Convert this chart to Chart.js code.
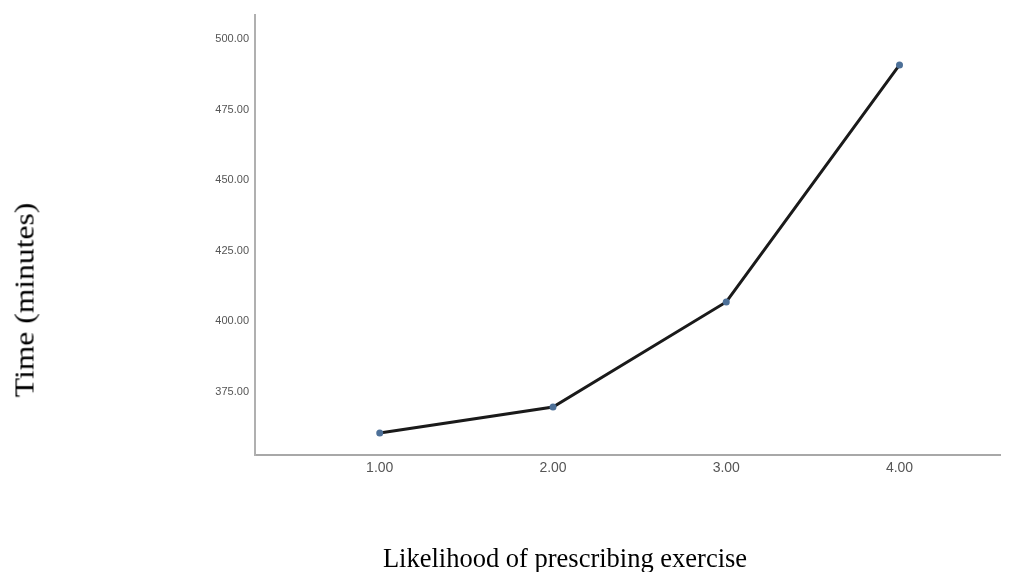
<!DOCTYPE html>
<html>
<head>
<meta charset="utf-8">
<script src="https://cdn.jsdelivr.net/npm/chart.js@4/dist/chart.umd.min.js"></script>
<style>
  html, body { margin: 0; padding: 0; background: #fff; }
  #wrap { position: relative; width: 1013px; height: 572px; overflow: hidden; }
  #c { position: absolute; left: 0; top: 0; }
  .ttl { position: absolute; font-family: "Liberation Serif", "Times New Roman", serif; color: #000; white-space: nowrap; }
  #ytitle { left: 25px; top: 300px; font-size: 27px; line-height: 27px; transform: translate(-50%, -50%) rotate(-90deg) scaleX(1.17); }
  #xtitle { left: 565px; top: 545px; font-size: 26.5px; line-height: 26.5px; transform: translateX(-50%); }
</style>
</head>
<body>
<div id="wrap">
  <canvas id="c" width="1013" height="572"></canvas>
  <div class="ttl" id="ytitle">Time (minutes)</div>
  <div class="ttl" id="xtitle">Likelihood of prescribing exercise</div>
</div>
<script>
const categories = [1, 2, 3, 4];
const timeValues = [360.5, 369.7, 406.9, 490.8];
const yTickValues = [375, 400, 425, 450, 475, 500];
const xTickValues = [1, 2, 3, 4];

const points = categories.map((c, i) => ({ x: c, y: timeValues[i] }));

new Chart(document.getElementById('c'), {
  type: 'line',
  data: {
    datasets: [{
      data: points,
      borderColor: '#1a1a1a',
      borderWidth: 3,
      pointRadius: 3.5,
      pointBackgroundColor: '#4d7098',
      pointBorderColor: '#4d7098',
      pointBorderWidth: 0,
      tension: 0,
      fill: false
    }]
  },
  options: {
    responsive: false,
    animation: false,
    devicePixelRatio: 1,
    layout: { padding: { top: 15, right: 13, left: 0, bottom: 0 } },
    plugins: { legend: { display: false }, tooltip: { enabled: false } },
    scales: {
      x: {
        type: 'linear',
        min: 0.28,
        max: 4.58,
        afterFit: s => { s.height = 117; },
        afterBuildTicks: s => { s.ticks = xTickValues.map(v => ({ value: v })); },
        grid: { display: false, drawTicks: false },
        border: { display: true, color: '#a8a8a8', width: 2 },
        ticks: {
          padding: 5,
          color: '#555',
          font: { family: 'Arial, "Liberation Sans", sans-serif', size: 14 },
          callback: v => Number(v).toFixed(2)
        }
      },
      y: {
        type: 'linear',
        min: 352.7,
        max: 508.5,
        afterFit: s => { s.width = 255; },
        afterBuildTicks: s => { s.ticks = yTickValues.map(v => ({ value: v })); },
        grid: { display: false, drawTicks: false },
        border: { display: true, color: '#b0b0b0', width: 2 },
        ticks: {
          padding: 6,
          color: '#555',
          font: { family: 'Arial, "Liberation Sans", sans-serif', size: 11 },
          callback: v => Number(v).toFixed(2)
        }
      }
    }
  }
});
</script>
</body>
</html>
